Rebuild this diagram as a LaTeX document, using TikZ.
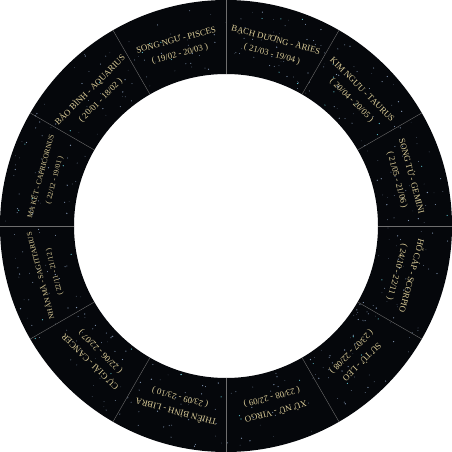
\documentclass[tikz,border=0pt]{standalone}
\usepackage{fontspec}
\setmainfont{Liberation Serif}
\usepackage{xcolor}
\definecolor{cSky}{HTML}{05070B}
\definecolor{cGold}{HTML}{DCCD98}
\definecolor{cRule}{HTML}{6E6E6E}
\definecolor{cStarA}{HTML}{9FB6D8}
\definecolor{cStarB}{HTML}{5FC6D0}
\usepackage{tikz}
\usetikzlibrary{calc}
\tikzset{
  sign-label/.style={text=cGold,align=center,inner sep=0pt,
    font=\fontsize{8.8}{14.5}\selectfont},
  sign-label-small/.style={sign-label,font=\fontsize{7.4}{14}\selectfont},
  sign-rule/.style={draw=cRule,line width=0.4pt},
  star/.style={fill=cStarA},
  star-bright/.style={fill=cStarB},
}

\begin{document}
\begin{tikzpicture}
  \useasboundingbox (-226pt,-226pt) rectangle (226pt,226pt);
  \fill[white] (-226pt,-226pt) rectangle (226pt,226pt);
  % night-sky ring
  \fill[cSky,even odd rule] (0,0) circle (226pt) (0,0) circle (152pt);
  \pgfmathsetseed{4242}
  \foreach \i in {1,...,420}{
    \pgfmathsetmacro\sa{rnd*360}
    \pgfmathsetmacro\sr{155+rnd*68}
    \pgfmathsetmacro\ss{0.25+rnd*0.45}
    \fill[star,opacity=0.8] (\sa:\sr pt) circle (\ss pt);
  }
  \foreach \i in {1,...,40}{
    \pgfmathsetmacro\sa{rnd*360}
    \pgfmathsetmacro\sr{155+rnd*68}
    \fill[star-bright] (\sa:\sr pt) circle (0.6pt);
  }
  % dividers between the twelve signs
  \foreach \a in {0,30,...,330}
    \draw[sign-rule] (\a:152pt) -- (\a:226pt);
  % sign names
  \node[sign-label,rotate=15]   (pisces)  at (105:185pt) {SONG NGƯ - PISCES\\( 19/02 - 20/03 )};
  \node[sign-label,rotate=-15]  (aries)   at (75:185pt)  {BẠCH DƯƠNG - ARIES\\( 21/03 - 19/04 )};
  \node[sign-label,rotate=-45]  (taurus)  at (45:185pt)  {KIM NGƯU - TAURUS\\( 20/04 - 20/05 )};
  \node[sign-label,rotate=-75]  (gemini)  at (15:185pt)  {SONG TỬ - GEMINI\\( 21/05 - 21/06 )};
  \node[sign-label,rotate=-105] (scorpio) at (-15:185pt) {HỔ CÁP - SCORPIO\\( 24/10 - 22/11 )};
  \node[sign-label,rotate=-135] (leo)     at (-45:185pt) {SƯ TỬ - LEO\\( 23/07 - 22/08 )};
  \node[sign-label,rotate=-165] (virgo)   at (-75:185pt) {XỬ NỮ - VIRGO\\( 23/08 - 22/09 )};
  \node[sign-label,rotate=165]  (libra)   at (-105:185pt) {THIÊN BÌNH - LIBRA\\( 23/09 - 23/10 )};
  \node[sign-label,rotate=135]  (cancer)  at (-135:185pt) {CỰ GIẢI - CANCER\\( 22/06 - 22/07 )};
  \node[sign-label-small,rotate=105] (sagittarius) at (195:185pt) {NHÂN MÃ - SAGITTARIUS\\( 22/11 - 21/12 )};
  \node[sign-label-small,rotate=75]  (capricorn)   at (165:185pt) {MA KẾT - CAPRICORNUS\\( 22/12 - 19/01 )};
  \node[sign-label,rotate=45]   (aquarius) at (135:185pt) {BẢO BÌNH - AQUARIUS\\( 20/01 - 18/02 )};
\end{tikzpicture}
\end{document}
